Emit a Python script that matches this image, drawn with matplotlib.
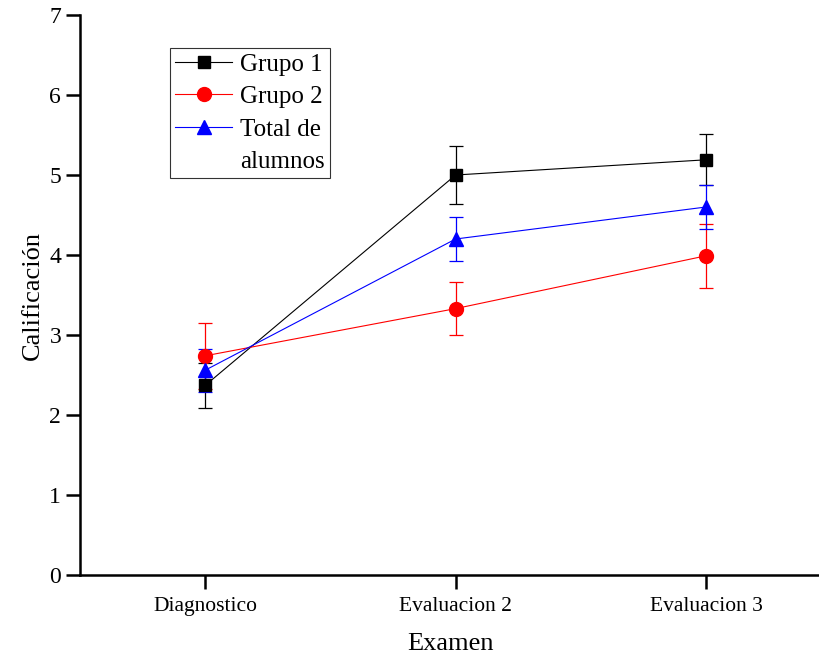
import numpy as np
import matplotlib
matplotlib.use("Agg")
from matplotlib import pyplot as plt
from matplotlib.lines import Line2D

plt.rcParams['font.family'] = ['Liberation Serif', 'DejaVu Serif']

examenes = ['Diagnostico', 'Evaluacion 2', 'Evaluacion 3']
grupo1 = [2.37, 5.00, 5.19]
grupo1_err = [0.28, 0.36, 0.32]
grupo2 = [2.74, 3.33, 3.99]
grupo2_err = [0.41, 0.33, 0.40]
total = [2.56, 4.20, 4.60]
total_err = [0.27, 0.27, 0.27]

fig = plt.figure(figsize=(8.2, 6.57), dpi=100)
ax = fig.add_axes([80 / 820, 82 / 657, 740 / 820, 560 / 657])

x = np.arange(len(examenes))
series = [
    (grupo1, grupo1_err, 'black', 's', 9, 'Grupo 1'),
    (grupo2, grupo2_err, 'red', 'o', 10, 'Grupo 2'),
    (total, total_err, 'blue', '^', 10, 'Total de'),
]
handles = []
for vals, err, col, mk, ms, lab in series:
    ax.errorbar(x, vals, yerr=err, color=col, lw=0.8, marker=mk, markersize=ms,
                elinewidth=0.9, capsize=5, capthick=0.9, ecolor=col)
    handles.append(Line2D([], [], color=col, lw=0.8, marker=mk, markersize=ms))

# second line of the last legend label, without handle
handles.append(Line2D([], [], color='none', lw=0))
labels = ['Grupo 1', 'Grupo 2', 'Total de', 'alumnos']
leg = ax.legend(handles, labels, loc='upper left', bbox_to_anchor=(90 / 740, 527 / 560),
                borderaxespad=0, fontsize=18, frameon=True, fancybox=False,
                edgecolor='black', handlelength=2.3, handletextpad=0.3,
                labelspacing=0.4, borderpad=0.2)
leg.get_frame().set_linewidth(0.8)

ax.set_xlim(-0.5, (820 - 205) / 250.5)
ax.set_ylim(0, 7)
ax.set_yticks(range(0, 8))
ax.set_xticks(x)
ax.set_xticklabels(examenes, fontsize=15.5)
ax.tick_params(axis='y', labelsize=17, direction='out', length=10, width=1.8)
ax.tick_params(axis='x', direction='out', length=10, width=1.8, pad=6)
for s in ['top', 'right']:
    ax.spines[s].set_visible(False)
for s in ['left', 'bottom']:
    ax.spines[s].set_linewidth(1.8)

ax.set_xlabel('Examen', fontsize=19, labelpad=12)
ax.set_ylabel('Calificación', fontsize=19, labelpad=4)

fig.savefig('out.png', dpi=100)
